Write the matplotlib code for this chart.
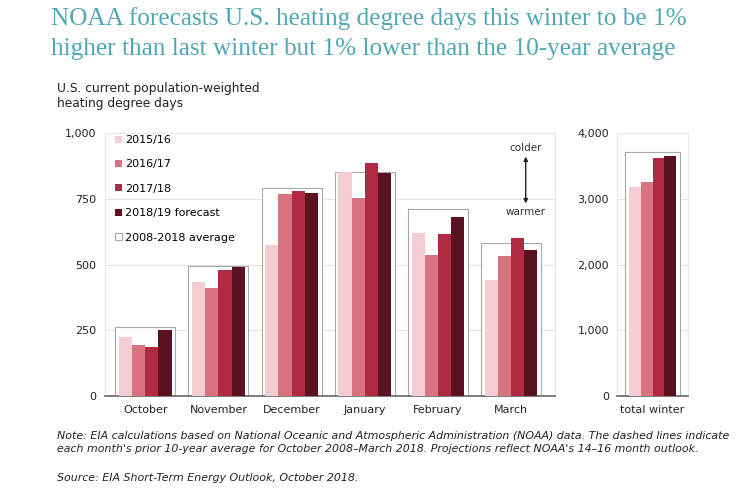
import matplotlib.pyplot as plt
import numpy as np

months = ["October", "November", "December", "January", "February", "March"]
series = ["2015/16", "2016/17", "2017/18", "2018/19 forecast"]
hdd_1516 = [224, 433, 574, 852, 620, 441]
hdd_1617 = [194, 411, 768, 753, 536, 532]
hdd_1718 = [186, 479, 780, 886, 616, 601]
hdd_1819 = [251, 490, 772, 848, 681, 555]
hdd_avg = [262, 495, 791, 852, 711, 582]

total_label = "total winter"
total_vals = [3176, 3252, 3618, 3649]
total_avg = 3710

colors = ["#f3cdd3", "#d8747f", "#b02a42", "#5a1220"]
edge_gray = "#a8a8a8"

fig = plt.figure(figsize=(7.5, 4.94), dpi=100)
fig.patch.set_facecolor("white")

fig.text(0.068, 0.985, "NOAA forecasts U.S. heating degree days this winter to be 1%\n"
         "higher than last winter but 1% lower than the 10-year average",
         family="Liberation Serif", fontsize=18.2, color="#4fa7b6",
         va="top", ha="left", linespacing=1.42)
fig.text(0.076, 0.835, "U.S. current population-weighted\nheating degree days",
         fontsize=8.8, color="#222222", va="top", ha="left", linespacing=1.25)

ax = fig.add_axes([0.140, 0.198, 0.600, 0.533])
ax2 = fig.add_axes([0.823, 0.198, 0.094, 0.533])

x = np.arange(len(months))
bw = 0.18
offs = (np.arange(4) - 1.5) * bw

ax.bar(x, hdd_avg, width=0.82, color="white", edgecolor=edge_gray,
       linewidth=0.8, zorder=2, label="2008-2018 average")
for i, vals in enumerate([hdd_1516, hdd_1617, hdd_1718, hdd_1819]):
    ax.bar(x + offs[i], vals, width=bw, color=colors[i], zorder=3, label=series[i])

ax.set_xlim(-0.55, 5.6)
ax.set_ylim(0, 1000)
ax.set_yticks([0, 250, 500, 750, 1000])
ax.set_yticklabels(["0", "250", "500", "750", "1,000"])
ax.set_xticks(x)
ax.set_xticklabels(months)

ax2.bar([0], [total_avg], width=0.95, color="white", edgecolor=edge_gray,
        linewidth=0.8, zorder=2)
for i, v in enumerate(total_vals):
    ax2.bar([offs[i] * 1.1], [v], width=bw * 1.1, color=colors[i], zorder=3)
ax2.set_xlim(-0.6, 0.6)
ax2.set_ylim(0, 4000)
ax2.set_yticks([0, 1000, 2000, 3000, 4000])
ax2.set_yticklabels(["0", "1,000", "2,000", "3,000", "4,000"])
ax2.set_xticks([0])
ax2.set_xticklabels([total_label])

for a in (ax, ax2):
    a.grid(axis="y", color="#e4e4e4", linewidth=0.8, zorder=0)
    a.set_axisbelow(True)
    for s in ("left", "right", "top"):
        a.spines[s].set_color("#e8e8e8")
        a.spines[s].set_linewidth(0.8)
    a.spines["bottom"].set_color("#666666")
    a.spines["bottom"].set_linewidth(1.2)
    a.tick_params(length=0, labelsize=8, colors="#222222", pad=6)

handles, labels = ax.get_legend_handles_labels()
order = [1, 2, 3, 4, 0]
leg = ax.legend([handles[i] for i in order], [labels[i] for i in order],
                loc="upper left", bbox_to_anchor=(0.0, 1.03), frameon=False,
                fontsize=8, handlelength=0.6, handleheight=0.6,
                handletextpad=0.3, labelspacing=1.3)

ax.annotate("", xy=(5.2, 732), xytext=(5.2, 910),
            arrowprops=dict(arrowstyle="<|-|>", color="#222222", lw=1,
                            mutation_scale=6, shrinkA=0, shrinkB=0))
ax.text(5.2, 943, "colder", ha="center", va="center", fontsize=7.5, color="#333333")
ax.text(5.2, 700, "warmer", ha="center", va="center", fontsize=7.5, color="#333333")

fig.text(0.076, 0.128, "Note: EIA calculations based on National Oceanic and Atmospheric "
         "Administration (NOAA) data. The dashed lines indicate\neach month's prior 10-year "
         "average for October 2008\u2013March 2018. Projections reflect NOAA's 14\u201316 "
         "month outlook.", fontsize=7.9, style="italic", color="#222222",
         va="top", ha="left", linespacing=1.4)
fig.text(0.076, 0.032, "Source: EIA Short-Term Energy Outlook, October 2018.",
         fontsize=7.9, style="italic", color="#222222", va="center", ha="left")

fig.savefig("out.png", dpi=100)
